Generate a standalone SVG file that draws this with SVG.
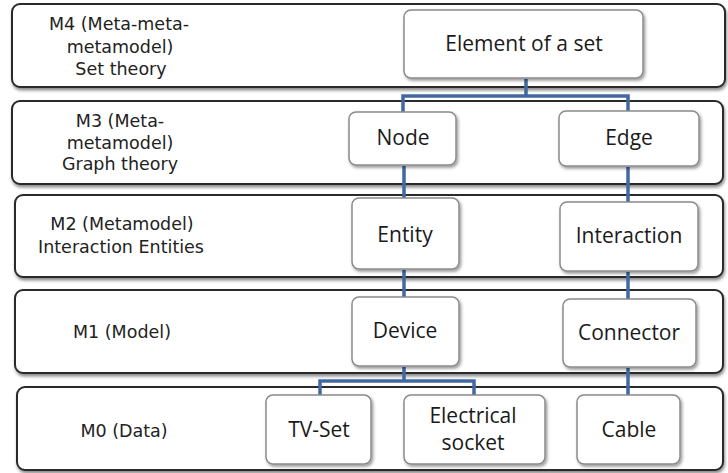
<svg xmlns="http://www.w3.org/2000/svg" width="728" height="473" viewBox="0 0 728 473">
<style>
.layer{fill:#fff;stroke:#2a2a2a;stroke-width:2;filter:url(#sh)}
.node{fill:#fff;stroke:#8a8a8a;stroke-width:1.5;filter:url(#sh2)}
.lbl{font-family:"DejaVu Sans","Liberation Sans",sans-serif;font-size:17.5px;fill:#222;text-anchor:middle}
.nt{font-family:"Open Sans","Liberation Sans",sans-serif;font-size:21px;fill:#1a1a1a;text-anchor:middle}
.conn{fill:none;stroke:#4169a0;stroke-width:3.5}
</style>
<defs>
<filter id="sh" x="-5%" y="-10%" width="110%" height="130%">
<feDropShadow dx="1" dy="2.5" stdDeviation="1.5" flood-color="#000" flood-opacity="0.45"/>
</filter>
<filter id="sh2" x="-10%" y="-10%" width="125%" height="130%">
<feDropShadow dx="1.5" dy="2" stdDeviation="1.5" flood-color="#000" flood-opacity="0.4"/>
</filter>
</defs>
<rect width="728" height="473" fill="#fff"/>
<g id="layer-m4"><rect class="layer" x="12" y="4" width="713" height="83" rx="8"/>
<text class="lbl" x="119" y="30">M4 (Meta-meta-</text><text class="lbl" x="120" y="52.5">metamodel)</text><text class="lbl" x="121" y="75">Set theory</text></g>
<g id="layer-m3"><rect class="layer" x="12" y="101" width="711" height="83" rx="8"/>
<text class="lbl" x="120" y="127">M3 (Meta-</text><text class="lbl" x="120" y="148.5">metamodel)</text><text class="lbl" x="120" y="170">Graph theory</text></g>
<g id="layer-m2"><rect class="layer" x="15" y="195" width="708" height="82" rx="8"/>
<text class="lbl" x="122" y="230">M2 (Metamodel)</text><text class="lbl" x="121" y="253">Interaction Entities</text></g>
<g id="layer-m1"><rect class="layer" x="15" y="290" width="708" height="83" rx="8"/>
<text class="lbl" x="122" y="338">M1 (Model)</text></g>
<g id="layer-m0"><rect class="layer" x="17" y="387" width="706" height="83" rx="8"/>
<text class="lbl" x="124" y="437">M0 (Data)</text></g>
<g id="connectors">
<path class="conn" d="M526 79 V96 M403 112 V96 H628 V111"/>
<path class="conn" d="M404 166 V198 M404 270 V297"/>
<path class="conn" d="M628 167 V202 M628 272 V299 M628 368 V395"/>
<path class="conn" d="M404 367 V381 M320 395 V381 H474 V395"/>
</g>
<g id="n-element"><rect class="node" x="404" y="10" width="239" height="68" rx="7"/><text class="nt" x="524" y="51">Element of a set</text></g>
<g id="n-node"><rect class="node" x="349" y="112" width="107" height="53" rx="7"/><text class="nt" x="403" y="145">Node</text></g>
<g id="n-edge"><rect class="node" x="559" y="111" width="140" height="55" rx="7"/><text class="nt" x="629" y="145">Edge</text></g>
<g id="n-entity"><rect class="node" x="352" y="198" width="107" height="71" rx="7"/><text class="nt" x="405" y="242">Entity</text></g>
<g id="n-interaction"><rect class="node" x="560" y="202" width="138" height="69" rx="7"/><text class="nt" x="629" y="243">Interaction</text></g>
<g id="n-device"><rect class="node" x="352" y="297" width="107" height="69" rx="7"/><text class="nt" x="405" y="338">Device</text></g>
<g id="n-connector"><rect class="node" x="563" y="299" width="133" height="68" rx="7"/><text class="nt" x="629" y="340">Connector</text></g>
<g id="n-tvset"><rect class="node" x="266" y="395" width="105" height="69" rx="7"/><text class="nt" x="319" y="437">TV-Set</text></g>
<g id="n-socket"><rect class="node" x="404" y="395" width="141" height="69" rx="7"/><text class="nt" x="473" y="423">Electrical</text><text class="nt" x="473" y="450">socket</text></g>
<g id="n-cable"><rect class="node" x="577" y="395" width="103" height="69" rx="7"/><text class="nt" x="629" y="437">Cable</text></g>
</svg>
